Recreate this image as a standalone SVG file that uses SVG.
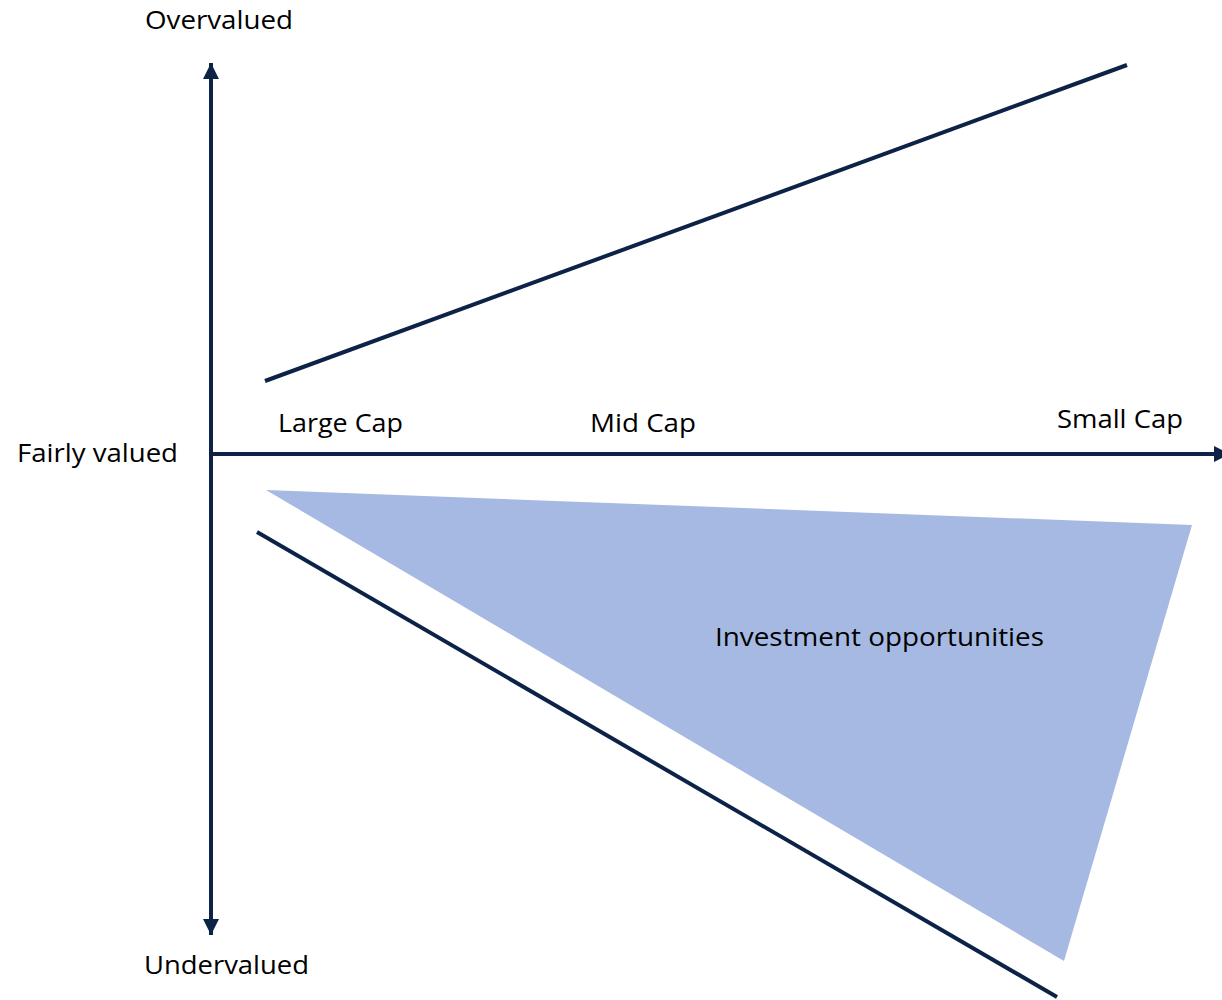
<svg xmlns="http://www.w3.org/2000/svg" width="1222" height="1000" viewBox="0 0 1222 1000">
<style>
.ax{stroke:#0c2347;stroke-width:4;fill:none}
.ln{stroke:#0c2347;stroke-width:4;fill:none}
.t{font-family:"Open Sans","Liberation Sans",sans-serif;font-size:26px;fill:#000}
</style>
<defs>
<marker id="ah" viewBox="0 0 10 10" refX="10" refY="5" markerWidth="4" markerHeight="4" markerUnits="strokeWidth" orient="auto">
<path d="M0,0 L10,5 L0,10 z" fill="#0c2347"/>
</marker>
</defs>
<rect width="1222" height="1000" fill="#fff"/>
<g id="region">
<polygon points="266,490 1192,525 1064,961" fill="#a6b9e2"/>
</g>
<g id="connectors">
<line class="ax" x1="211" y1="454" x2="211" y2="63" marker-end="url(#ah)"/>
<line class="ax" x1="211" y1="454" x2="211" y2="935" marker-end="url(#ah)"/>
<line class="ax" x1="209" y1="454" x2="1230" y2="454" marker-end="url(#ah)"/>
<line class="ln" x1="265" y1="381" x2="1127" y2="65"/>
<line class="ln" x1="257" y1="532" x2="1057" y2="997"/>
</g>
<g id="labels">
<text class="t" x="145" y="29" textLength="148" lengthAdjust="spacingAndGlyphs">Overvalued</text>
<text class="t" x="17" y="462" textLength="161" lengthAdjust="spacingAndGlyphs">Fairly valued</text>
<text class="t" x="144" y="974" textLength="165" lengthAdjust="spacingAndGlyphs">Undervalued</text>
<text class="t" x="278" y="432" textLength="125" lengthAdjust="spacingAndGlyphs">Large Cap</text>
<text class="t" x="590" y="432" textLength="106" lengthAdjust="spacingAndGlyphs">Mid Cap</text>
<text class="t" x="1057" y="428" textLength="126" lengthAdjust="spacingAndGlyphs">Small Cap</text>
<text class="t" x="715" y="646" textLength="329" lengthAdjust="spacingAndGlyphs">Investment opportunities</text>
</g>
</svg>
